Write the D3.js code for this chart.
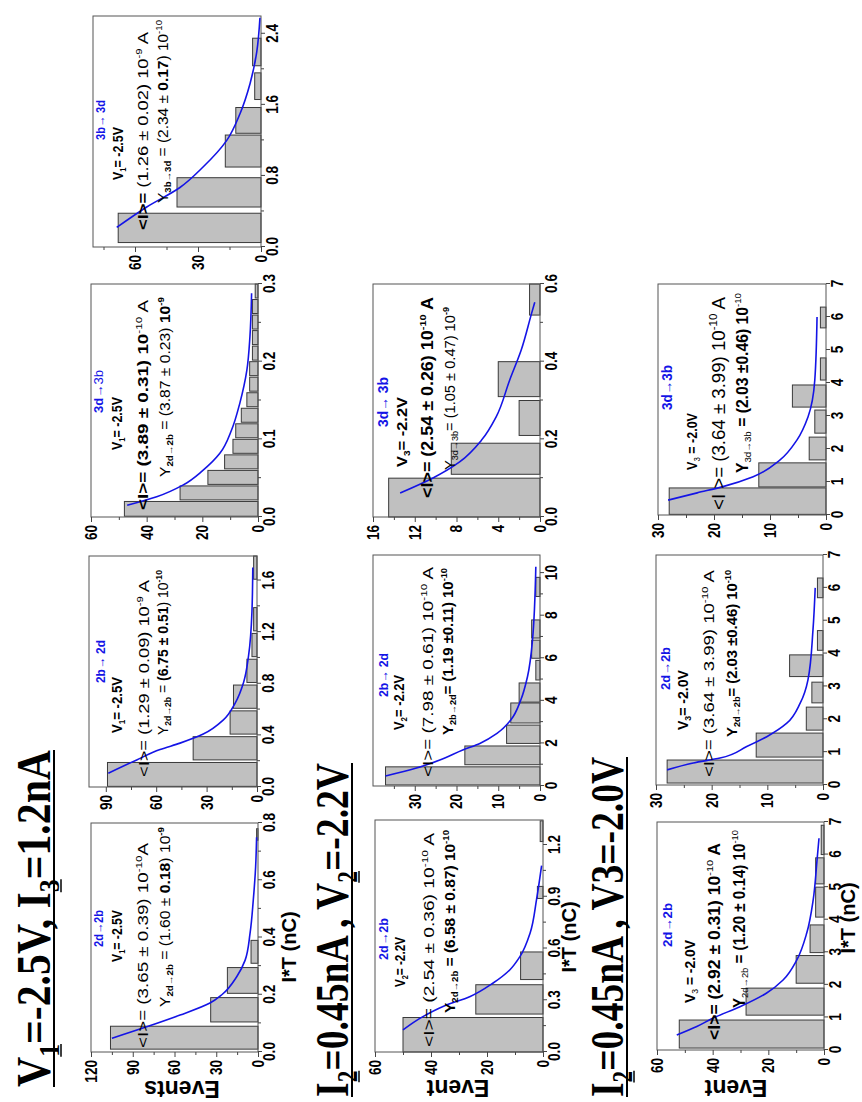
<!DOCTYPE html>
<html><head><meta charset="utf-8">
<script src="https://cdn.jsdelivr.net/npm/d3@7"></script>
<style>body{margin:0;background:#fff}svg{display:block}</style>
</head><body>
<svg id="c" width="862" height="1102"></svg>
<script>
// ---------------- DATA ----------------
// Panel 1: 2d->2b, V1=-2.5V
const p1Lo = [0.01, 0.105, 0.205, 0.31, 0.74];
const p1Hi = [0.09, 0.19, 0.295, 0.39, 0.78];
const p1Counts = [106, 34, 22, 5, 1];
const p1FitT = [0.048, 0.088, 0.129, 0.171, 0.2, 0.263, 0.32, 0.415, 0.53, 0.647, 0.75];
const p1FitN = [105, 80, 56, 34.5, 26, 15.3, 9.3, 5.7, 3.4, 1.7, 1];
// Panel 2: 2b->2d, V1=-2.5V
const p2Lo = [0.005, 0.21, 0.41, 0.61, 0.81, 1.01, 1.21, 1.61];
const p2Hi = [0.19, 0.39, 0.59, 0.79, 0.99, 1.19, 1.39, 1.79];
const p2Counts = [89, 38, 16, 14, 6, 3, 2, 2];
const p2FitT = [0.107, 0.21, 0.29, 0.34, 0.41, 0.52, 0.65, 0.81, 1.02, 1.36, 1.7];
const p2FitN = [88.5, 71.6, 57.7, 45.8, 32, 20, 13, 8, 5, 3, 2.5];
// Panel 3: 3d->3b, V1=-2.5V
const p3Lo = [0.001, 0.022, 0.042, 0.062, 0.082, 0.102, 0.122, 0.142, 0.162, 0.182, 0.202, 0.222, 0.242, 0.262, 0.282];
const p3Hi = [0.02, 0.04, 0.06, 0.08, 0.1, 0.12, 0.14, 0.16, 0.18, 0.2, 0.22, 0.24, 0.26, 0.28, 0.3];
const p3Counts = [48, 28, 18, 12, 9, 8, 6, 4, 3, 3, 2, 2, 2, 2, 1];
const p3FitT = [0.015, 0.026, 0.041, 0.06, 0.082, 0.112, 0.147, 0.189, 0.232, 0.288];
const p3FitN = [47, 36.4, 27, 19.8, 13.7, 9.5, 6.5, 4, 2.9, 2.3];
// Panel 4: 3b->3d, V1=-2.5V
const p4Lo = [0.05, 0.45, 0.9, 1.28, 1.66, 2.04];
const p4Hi = [0.38, 0.78, 1.26, 1.57, 1.96, 2.35];
const p4Counts = [68, 40, 17, 12, 3, 4];
const p4FitT = [0.22, 0.45, 0.67, 0.9, 1.2, 1.5, 1.84, 2.2, 2.58];
const p4FitN = [68.7, 54.4, 38.6, 27.6, 16.3, 10, 5.2, 2, 0.5];
// Panel 5: 2d->2b, V2=-2.2V
const p5Lo = [0.0, 0.22, 0.42, 0.89, 1.22];
const p5Hi = [0.2, 0.39, 0.58, 0.96, 1.34];
const p5Counts = [50, 24, 8, 2, 1];
const p5FitT = [0.128, 0.205, 0.264, 0.322, 0.4, 0.477, 0.554, 0.69, 0.885, 1.08];
const p5FitN = [50, 42.9, 35.7, 26, 17.8, 11.8, 8.2, 4.6, 2.3, 0.5];
// Panel 6: 2b->2d, V2=-2.2V
const p6Lo = [0.05, 1.0, 2.0, 2.96, 3.94, 4.98, 6.0, 6.95, 8.9];
const p6Hi = [0.9, 1.88, 2.86, 3.9, 4.84, 5.9, 6.85, 7.8, 9.8];
const p6Counts = [37, 18, 8, 7, 5, 1, 2, 2, 1];
const p6FitT = [0.47, 0.83, 1.22, 1.69, 2.0, 2.47, 3.1, 4.04, 5.13, 6.85, 10.3];
const p6FitN = [37, 29.8, 24, 18.5, 14.4, 10.3, 7, 4.6, 3, 1.8, 1];
// Panel 7: 3d->3b, V3=-2.2V
const p7Lo = [0.0, 0.11, 0.21, 0.31, 0.52];
const p7Hi = [0.1, 0.19, 0.3, 0.4, 0.6];
const p7Counts = [14.5, 8.5, 2, 4, 1];
const p7FitT = [0.062, 0.1, 0.142, 0.198, 0.258, 0.353, 0.43, 0.525, 0.553];
const p7FitN = [13.4, 10.3, 7.7, 5.6, 4.2, 2.9, 1.8, 0.8, 0.5];
// Panel 8: 2d->2b, V3=-2.0V
const p8Lo = [0.06, 1.07, 2.05, 2.99, 4.08, 5.1, 6.0];
const p8Hi = [0.92, 1.9, 2.9, 3.84, 5.0, 5.9, 6.9];
const p8Counts = [52, 28, 10, 5, 3, 3, 1];
const p8FitT = [0.46, 0.72, 0.98, 1.33, 1.75, 2.15, 2.76, 3.59, 4.6, 5.83, 6.5];
const p8FitN = [52.9, 45.7, 39.8, 30.2, 20.6, 14.7, 9.8, 6.2, 3.9, 2.5, 1.8];
// Panel 9: 2d->2b, V3=-2.0V
const p9Lo = [0.06, 0.85, 1.67, 2.5, 3.3, 4.1, 5.7];
const p9Hi = [0.76, 1.58, 2.37, 3.13, 3.96, 4.7, 6.3];
const p9Counts = [28, 12, 3, 2, 6, 1, 1];
const p9FitT = [0.46, 0.67, 0.82, 1.17, 1.47, 1.88, 2.49, 3.2, 4.72, 6.0];
const p9FitN = [28, 23.3, 18.5, 13.7, 10.1, 6.5, 4.1, 2.7, 1.8, 1.4];
// Panel 10: 3d->3b, V3=-2.0V
const p10Lo = [0.02, 0.85, 1.67, 2.48, 3.27, 4.09, 5.67];
const p10Hi = [0.82, 1.58, 2.36, 3.18, 3.94, 4.76, 6.3];
const p10Counts = [28, 12, 3, 2, 6, 1, 1];
const p10FitT = [0.45, 0.67, 0.86, 1.16, 1.67, 2.27, 2.98, 4.09, 6.0];
const p10FitN = [28.2, 23, 18.4, 13, 8.2, 5.2, 3.2, 2, 1.6];

// Tick values
const p1XTicks = [0, 0.2, 0.4, 0.6, 0.8], p1XMinor = [0.1, 0.3, 0.5, 0.7];
const p1YTicks = [0, 30, 60, 90, 120], p1YMinor = [15, 45, 75, 105];
const p2XTicks = [0, 0.4, 0.8, 1.2, 1.6], p2XMinor = [0.2, 0.6, 1.0, 1.4];
const p2YTicks = [0, 30, 60, 90], p2YMinor = [15, 45, 75];
const p3XTicks = [0, 0.1, 0.2, 0.3], p3XMinor = [0.05, 0.15, 0.25];
const p3YTicks = [0, 20, 40, 60], p3YMinor = [10, 30, 50];
const p4XTicks = [0, 0.8, 1.6, 2.4], p4XMinor = [0.4, 1.2, 2.0];
const p4YTicks = [0, 30, 60], p4YMinor = [15, 45, 75];
const p5XTicks = [0, 0.3, 0.6, 0.9, 1.2], p5XMinor = [0.15, 0.45, 0.75, 1.05];
const p5YTicks = [0, 20, 40, 60], p5YMinor = [10, 30, 50];
const p6XTicks = [0, 2, 4, 6, 8, 10], p6XMinor = [1, 3, 5, 7, 9];
const p6YTicks = [0, 10, 20, 30], p6YMinor = [5, 15, 25, 35];
const p7XTicks = [0, 0.2, 0.4, 0.6], p7XMinor = [0.1, 0.3, 0.5];
const p7YTicks = [0, 4, 8, 12, 16], p7YMinor = [2, 6, 10, 14];
const p8XTicks = [0, 1, 2, 3, 4, 5, 6, 7], p8XMinor = [];
const p8YTicks = [0, 20, 40, 60], p8YMinor = [10, 30, 50];
const p9XTicks = [0, 1, 2, 3, 4, 5, 6, 7], p9XMinor = [];
const p9YTicks = [0, 10, 20, 30], p9YMinor = [5, 15, 25];
const p10XTicks = [0, 1, 2, 3, 4, 5, 6, 7], p10XMinor = [];
const p10YTicks = [0, 10, 20, 30], p10YMinor = [5, 15, 25];

// Texts
const titles = [
  [["V","n"],["1","sub"],["=-2.5V, I","n"],["3","sub"],["=1.2nA","n"]],
  [["I","n"],["2","sub"],["=0.45nA , V","n"],["2","sub"],["=-2.2V","n"]],
  [["I","n"],["2","sub"],["=0.45nA , V3=-2.0V","n"]]
];
const ARR = "\u2192", PM = "\u00b1";
const p1Notes = [
  [["2d"+ARR+"2b","b"]],
  [["V","b"],["1","bsub"],["= -2.5V","b"]],
  [["<I>= (3.65 "+PM+" 0.39) 10","n"],["-10","sup"],["A","n"]],
  [["Y","n"],["2d"+ARR+"2b","bsub"],[" = (1.60  "+PM+" ","n"],["0.18","b"],[") 10","n"],["-9","bsup"]]
];
const p2Notes = [
  [["2b"+ARR+" 2d","b"]],
  [["V","b"],["1","bsub"],["= -2.5V","b"]],
  [["<I>= (1.29 "+PM+" 0.09) 10","n"],["-9","sup"],[" A","n"]],
  [["Y","n"],["2d"+ARR+"2b","bsub"],[" = ","n"],["(6.75  "+PM+" 0.51","b"],[") 10","n"],["-10","bsup"]]
];
const p3Notes = [
  [["3d"+ARR,"b"],["3b","n"]],
  [["V","b"],["1","bsub"],["= -2.5V","b"]],
  [["<I>= (3.89 "+PM+" 0.31) 10","b"],["-10","sup"],["  A","n"]],
  [["Y","n"],["2d"+ARR+"2b","bsub"],[" = (3.87  "+PM+" 0.23) ","n"],["10","b"],["-9","bsup"]]
];
const p4Notes = [
  [["3b"+ARR+" 3d","b"]],
  [["V","b"],["1","bsub"],["= -2.5V","b"]],
  [["<I>= ","b"],["(1.26 "+PM+" 0.02) 10","n"],["-9","sup"],["  A","n"]],
  [["Y","n"],["3b"+ARR+"3d","bsub"],[" = (2.34  "+PM+" ","n"],["0.17","b"],[") 10","n"],["-10","sup"]]
];
const p5Notes = [
  [["2d"+ARR+"2b","b"]],
  [["V","b"],["2","bsub"],["= -2.2V","b"]],
  [["<I>= (2.54 "+PM+" 0.36) 10","n"],["-10","sup"],["  A","n"]],
  [["Y","b"],["2d"+ARR+"2b","bsub"],[" = (6.58  "+PM+" 0.87) 10","b"],["-10","bsup"]]
];
const p6Notes = [
  [["2b"+ARR+" 2d","b"]],
  [["V","b"],["2","bsub"],["= -2.2V","b"]],
  [["<I>= (7.98 "+PM+" 0.61) 10","n"],["-10","sup"],["  A","n"]],
  [["Y","b"],["2b"+ARR+"2d","bsub"],["= (1.19  "+PM+"0.11) 10","b"],["-10","bsup"]]
];
const p7Notes = [
  [["3d"+ARR+" 3b","b"]],
  [["V","b"],["3","bsub"],["= -2.2V","b"]],
  [["<I>= (2.54 "+PM+" 0.26) 10","b"],["-10","bsup"],[" A","b"]],
  [["Y","n"],["3d"+ARR+"3b","sub"],["= (1.05 "+PM+" 0.47) 10","n"],["-9","bsup"]]
];
const p8Notes = [
  [["2d"+ARR+"2b","b"]],
  [["V","b"],["3","sub"],[" = -2.0V","b"]],
  [["<I>= (2.92 "+PM+" 0.31) 10","b"],["-10","sup"],["  A","b"]],
  [["Y","b"],["2d"+ARR+"2b","sub"],["  = (1.20  "+PM+" 0.14) 10","b"],["-10","sup"]]
];
const p9Notes = [
  [["2d"+ARR+"2b","b"]],
  [["V","b"],["3","bsub"],["= -2.0V","b"]],
  [["<I>= (3.64 "+PM+" 3.99) 10","n"],["-10","sup"],["  A","n"]],
  [["Y","b"],["2d"+ARR+"2b","bsub"],["= (2.03  "+PM+"0.46) 10","b"],["-10","bsup"]]
];
const p10Notes = [
  [["3d"+ARR+"3b","b"]],
  [["V","b"],["3","sub"],[" = -2.0V","b"]],
  [["<I >= (3.64 "+PM+" 3.99) 10","n"],["-10","sup"],[" A","n"]],
  [["Y","b"],["3d"+ARR+"3b","sub"],[" = (2.03  "+PM+"0.46) 10","b"],["-10","sup"]]
];

// ---------------- LAYOUT (original landscape coordinates) ----------------
const panels = [
  {lo:p1Lo,hi:p1Hi,n:p1Counts,ft:p1FitT,fn:p1FitN,xt:p1XTicks,xm:p1XMinor,yt:p1YTicks,ym:p1YMinor,fmt:".1f",notes:p1Notes,
   x0:50,w:229,y0:91,h:167,xDom:[0,0.8],yDom:[0,120],
   pos:[[155,103,37,13],[140,122,52,14],[54,148,205,14],[95,170,180,14]], xLab:[155,296], yLab:["Events",21,182]},
  {lo:p2Lo,hi:p2Hi,n:p2Counts,ft:p2FitT,fn:p2FitN,xt:p2XTicks,xm:p2XMinor,yt:p2YTicks,ym:p2YMinor,fmt:".1f",notes:p2Notes,
   x0:315,w:231,y0:89,h:168,xDom:[0,1.79],yDom:[0,100],
   pos:[[419,105,43,13],[369,122,56,14],[325,149,197,14],[367,168,165,14]]},
  {lo:p3Lo,hi:p3Hi,n:p3Counts,ft:p3FitT,fn:p3FitN,xt:p3XTicks,xm:p3XMinor,yt:p3YTicks,ym:p3YMinor,fmt:".1f",notes:p3Notes,
   x0:585,w:233,y0:91,h:167,xDom:[0,0.3],yDom:[0,60],
   pos:[[689,103,43,13],[652,122,53,14],[592,148,210,14],[625,170,180,14]]},
  {lo:p4Lo,hi:p4Hi,n:p4Counts,ft:p4FitT,fn:p4FitN,xt:p4XTicks,xm:p4XMinor,yt:p4YTicks,ym:p4YMinor,fmt:".1f",notes:p4Notes,
   x0:855,w:231,y0:93,h:168,xDom:[0,2.6],yDom:[0,80],
   pos:[[962,105,40,13],[922,123,53,14],[872,148,198,14],[899,168,183,14]]},
  {lo:p5Lo,hi:p5Hi,n:p5Counts,ft:p5FitT,fn:p5FitN,xt:p5XTicks,xm:p5XMinor,yt:p5YTicks,ym:p5YMinor,fmt:".1f",notes:p5Notes,
   x0:50,w:232,y0:375,h:168,xDom:[0,1.345],yDom:[0,60],
   pos:[[142,388,42,13],[115,405,50,14],[55,434,214,14],[89,455,183,14]], xLab:[165,576], yLab:["Event",22,458]},
  {lo:p6Lo,hi:p6Hi,n:p6Counts,ft:p6FitT,fn:p6FitN,xt:p6XTicks,xm:p6XMinor,yt:p6YTicks,ym:p6YMinor,fmt:"d",notes:p6Notes,
   x0:316,w:231,y0:373,h:167,xDom:[0,10.85],yDom:[0,40],
   pos:[[405,388,44,13],[372,404,55,14],[325,433,210,14],[367,453,167,14]]},
  {lo:p7Lo,hi:p7Hi,n:p7Counts,ft:p7FitT,fn:p7FitN,xt:p7XTicks,xm:p7XMinor,yt:p7YTicks,ym:p7YMinor,fmt:".1f",notes:p7Notes,
   x0:585,w:233,y0:373,h:167,xDom:[0,0.6],yDom:[0,16],
   pos:[[675,388,50,14],[635,407,70,15],[604,433,201,16],[632,455,163,15]]},
  {lo:p8Lo,hi:p8Hi,n:p8Counts,ft:p8FitT,fn:p8FitN,xt:p8XTicks,xm:p8XMinor,yt:p8YTicks,ym:p8YMinor,fmt:"d",notes:p8Notes,
   x0:52,w:228,y0:657,h:167,xDom:[0,7],yDom:[0,60],
   pos:[[155,672,44,13],[99,695,63,15],[62,720,197,16],[94,745,178,16]], xLab:[184,855], yLab:["Event",22,736]},
  {lo:p9Lo,hi:p9Hi,n:p9Counts,ft:p9FitT,fn:p9FitN,xt:p9XTicks,xm:p9XMinor,yt:p9YTicks,ym:p9YMinor,fmt:"d",notes:p9Notes,
   x0:317,w:230,y0:656,h:167,xDom:[0,7],yDom:[0,30],
   pos:[[412,670,43,13],[372,688,60,14],[325,714,207,15],[365,737,167,15]]},
  {lo:p10Lo,hi:p10Hi,n:p10Counts,ft:p10FitT,fn:p10FitN,xt:p10XTicks,xm:p10XMinor,yt:p10YTicks,ym:p10YMinor,fmt:"d",notes:p10Notes,
   x0:587,w:231,y0:658,h:168,xDom:[0,7],yDom:[0,30],
   pos:[[692,672,45,14],[632,697,57,15],[592,725,213,18],[629,748,180,16]]}
];
const titlePos = [[15,50,337,48],[5,348,334,46],[5,623,340,46]];

const SANS = "'Liberation Sans', Arial, Helvetica, sans-serif";
const SERIF = "'Liberation Serif', 'Times New Roman', serif";
const BLUE = "#1414e6";

const svg = d3.select("#c");
const root = svg.append("g").attr("transform", "translate(0,1102) rotate(-90)");

function richText(g, parts, x, y, len, size, color, family, weight) {
  const t = g.append("text").attr("x", x).attr("y", y)
    .attr("font-family", family).attr("font-size", size)
    .attr("fill", color).attr("font-weight", weight || "normal");
  parts.forEach(([s, k]) => {
    const ts = t.append("tspan").text(s);
    if (k.indexOf("b") === 0) ts.attr("font-weight", "bold");
    if (k.indexOf("sub") >= 0) ts.attr("font-size", size * 0.62).attr("baseline-shift", "-30%");
    if (k.indexOf("sup") >= 0) ts.attr("font-size", size * 0.62).attr("baseline-shift", "70%");
    ts.classed("k-" + k, true);
  });
  t.attr("textLength", len).attr("lengthAdjust", "spacingAndGlyphs");
  return t;
}

panels.forEach((p, pi) => {
  const g = root.append("g");
  const x = d3.scaleLinear().domain(p.xDom).range([p.x0, p.x0 + p.w]);
  const y = d3.scaleLinear().domain(p.yDom).range([p.y0 + p.h, p.y0]);

  // bars
  g.append("g").selectAll("rect").data(d3.range(p.n.length)).join("rect")
    .attr("x", i => x(p.lo[i])).attr("width", i => x(p.hi[i]) - x(p.lo[i]))
    .attr("y", i => y(p.n[i])).attr("height", i => y(0) - y(p.n[i]))
    .attr("fill", "#c0c0c0").attr("stroke", "#3a3a3a").attr("stroke-width", 1);

  // frame
  g.append("rect").attr("x", p.x0).attr("y", p.y0).attr("width", p.w).attr("height", p.h)
    .attr("fill", "none").attr("stroke", "#555").attr("stroke-width", 1);

  // fit curve
  const line = d3.line().x(i => x(p.ft[i])).y(i => y(p.fn[i])).curve(d3.curveMonotoneX);
  g.append("path").attr("d", line(d3.range(p.ft.length)))
    .attr("fill", "none").attr("stroke", BLUE).attr("stroke-width", 1.6);

  // axes
  const fmt = d3.format(p.fmt);
  const xa = g.append("g").attr("transform", `translate(0,${p.y0 + p.h})`)
    .call(d3.axisBottom(x).tickValues(p.xt).tickFormat(fmt).tickSize(4).tickPadding(1));
  const xm = g.append("g").attr("transform", `translate(0,${p.y0 + p.h})`)
    .call(d3.axisBottom(x).tickValues(p.xm).tickFormat("").tickSize(3));
  const ya = g.append("g").attr("transform", `translate(${p.x0},0)`)
    .call(d3.axisLeft(y).tickValues(p.yt).tickFormat(d3.format("d")).tickSize(5).tickPadding(3));
  const ym = g.append("g").attr("transform", `translate(${p.x0},0)`)
    .call(d3.axisLeft(y).tickValues(p.ym).tickFormat("").tickSize(3));
  [xa, xm, ya, ym].forEach(a => {
    a.select(".domain").remove();
    a.selectAll("line").attr("stroke", "#444");
    a.selectAll("text").attr("font-family", SANS).attr("font-size", 17)
      .attr("font-weight", "bold").attr("fill", "#000");
  });
  xa.selectAll("text").attr("transform", "scale(0.8,1)");
  ya.selectAll("text").attr("x", -10).attr("transform", "scale(0.8,1)");

  // annotations
  p.notes.forEach((parts, li) => {
    const [tx, ty, len, size] = p.pos[li];
    richText(g, parts, tx, ty, len, size, li === 0 ? BLUE : "#000", SANS);
  });

  // axis titles
  if (p.xLab) {
    g.append("text").attr("x", p.xLab[0]).attr("y", p.xLab[1]).attr("text-anchor", "middle")
      .attr("font-family", SANS).attr("font-weight", "bold").attr("font-size", 20).text("I*T (nC)");
  }
  if (p.yLab) {
    g.append("text").attr("transform", `translate(${p.yLab[1]},${p.yLab[2]}) rotate(-90)`)
      .attr("text-anchor", "middle").attr("font-family", SANS).attr("font-weight", "bold")
      .attr("font-size", 23).text(p.yLab[0]);
  }
});

// titles
titles.forEach((parts, i) => {
  const [tx, ty, len, size] = titlePos[i];
  const t = richText(root, parts, tx, ty, len, size, "#000", SERIF, "bold");
  root.append("line").attr("x1", tx).attr("x2", tx + len).attr("y1", ty + 4).attr("y2", ty + 4)
    .attr("stroke", "#000").attr("stroke-width", 2);
  t.selectAll("tspan.k-sub").each(function() {
    try {
      const b = this.getBBox();
      root.append("line").attr("x1", b.x).attr("x2", b.x + b.width)
        .attr("y1", ty + 11).attr("y2", ty + 11).attr("stroke", "#000").attr("stroke-width", 1.5);
    } catch (e) {}
  });
});
</script>
</body></html>
